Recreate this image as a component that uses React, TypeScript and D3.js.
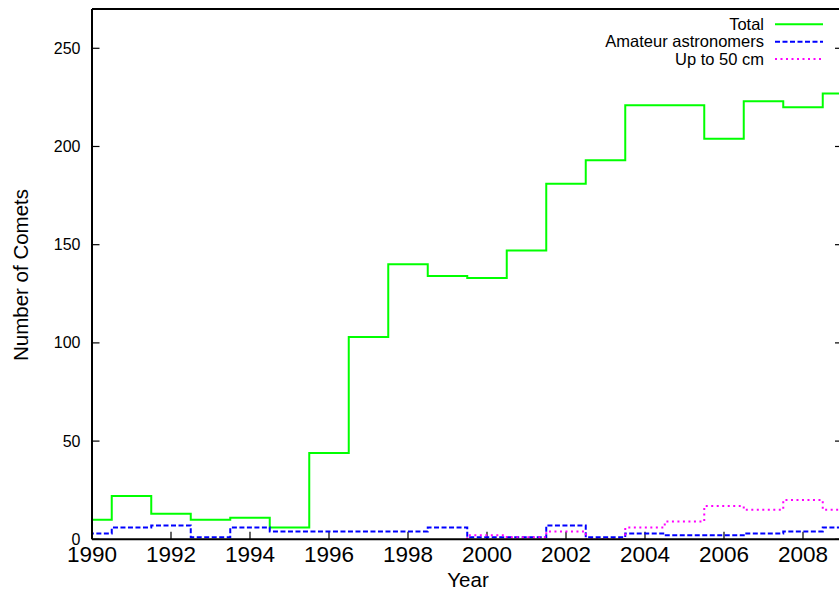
import React from "react";
import * as d3 from "d3";

const years = [1990, 1991, 1992, 1993, 1994, 1995, 1996, 1997, 1998, 1999, 2000, 2001, 2002, 2003, 2004, 2005, 2006, 2007, 2008, 2009];
const totalValues = [10, 22, 13, 10, 11, 6, 44, 103, 140, 134, 133, 147, 181, 193, 221, 221, 204, 223, 220, 227];
const amateurValues = [3, 6, 7, 1, 6, 4, 4, 4, 4, 6, 1, 1, 7, 1, 3, 2, 2, 3, 4, 6];
const smallYears = [2000, 2001, 2002, 2003, 2004, 2005, 2006, 2007, 2008, 2009];
const smallValues = [2, 1, 4, 0, 6, 9, 17, 15, 20, 15];
const xTicks = [1990, 1992, 1994, 1996, 1998, 2000, 2002, 2004, 2006, 2008];
const yTicks = [0, 50, 100, 150, 200, 250];
const xDomain = [1990, 2009];
const yDomain = [0, 270];

const seriesDefs = [
  { name: "Total", xs: years, ys: totalValues, color: "#00ff00", dash: "none" },
  { name: "Amateur astronomers", xs: years, ys: amateurValues, color: "#0000ff", dash: "5,2.5" },
  { name: "Up to 50 cm", xs: smallYears, ys: smallValues, color: "#ff00ff", dash: "2,3.5" },
];

const W = 839;
const H = 592;
const M = { left: 92, right: 842.5, top: 9, bottom: 539.3 };
const FONT = "'Liberation Sans', Arial, Helvetica, sans-serif";

export default function App() {
  const x = d3.scaleLinear().domain(xDomain).range([M.left, M.right]);
  const y = d3.scaleLinear().domain(yDomain).range([M.bottom, M.top]);

  const histeps = (xs: number[], ys: number[]) => {
    const pts: [number, number][] = [[xs[0] - 0.5, 0]];
    xs.forEach((xv, i) => {
      pts.push([xv - 0.5, ys[i]]);
      pts.push([xv + 0.5, ys[i]]);
    });
    return d3
      .line<[number, number]>()
      .x((d) => x(d[0]))
      .y((d) => y(d[1]))(pts) as string;
  };

  const legendX = 764;
  const legendY0 = 24.3;
  const legendDY = 17.4;

  return (
    <svg
      width={W}
      height={H}
      style={{ position: "absolute", left: 0, top: 0, background: "#fff" }}
      fontFamily={FONT}
    >
      <defs>
        <clipPath id="plotclip">
          <rect x={M.left} y={M.top} width={M.right - M.left} height={M.bottom - M.top} />
        </clipPath>
      </defs>
      <rect x={0} y={0} width={W} height={H} fill="#fff" />

      {/* y ticks left and right mirror */}
      {yTicks.map((t) => (
        <g key={"y" + t}>
          <line x1={M.left} x2={M.left + 7.5} y1={y(t)} y2={y(t)} stroke="#000" strokeWidth={1.2} />
          <line x1={M.right - 7.5} x2={M.right} y1={y(t)} y2={y(t)} stroke="#000" strokeWidth={1.2} />
          <text x={80.5} y={y(t)} dy="0.35em" textAnchor="end" fontSize={16} fill="#000">
            {t}
          </text>
        </g>
      ))}
      {/* x ticks */}
      {xTicks.map((t) => (
        <g key={"x" + t}>
          <line x1={x(t)} x2={x(t)} y1={M.bottom} y2={M.bottom - 7.5} stroke="#000" strokeWidth={1.2} />
          <text x={x(t)} y={562} textAnchor="middle" fontSize={22.5} fill="#000">
            {t}
          </text>
        </g>
      ))}

      {/* series */}
      <g clipPath="url(#plotclip)">
        {seriesDefs.map((s) => (
          <path
            key={s.name}
            d={histeps(s.xs, s.ys)}
            fill="none"
            stroke={s.color}
            strokeWidth={2}
            strokeDasharray={s.dash}
          />
        ))}
      </g>

      {/* border */}
      <line x1={M.left} x2={M.left} y1={M.top} y2={M.bottom} stroke="#000" strokeWidth={2} />
      <line x1={M.left} x2={M.right} y1={M.top} y2={M.top} stroke="#000" strokeWidth={2} />
      <line x1={M.left} x2={M.right} y1={M.bottom} y2={M.bottom} stroke="#000" strokeWidth={2} />
      <line x1={M.right} x2={M.right} y1={M.top} y2={M.bottom} stroke="#000" strokeWidth={2} />

      {/* legend */}
      {seriesDefs.map((s, i) => (
        <g key={"lg" + s.name}>
          <text x={legendX} y={legendY0 + i * legendDY} dy="0.35em" textAnchor="end" fontSize={16.5} fill="#000">
            {s.name}
          </text>
          <line
            x1={775}
            x2={823}
            y1={legendY0 + i * legendDY}
            y2={legendY0 + i * legendDY}
            stroke={s.color}
            strokeWidth={2}
            strokeDasharray={s.dash}
          />
        </g>
      ))}

      {/* axis titles */}
      <text x={468} y={586.5} textAnchor="middle" fontSize={20.5} fill="#000">
        Year
      </text>
      <text
        transform={`translate(28,275) rotate(-90)`}
        textAnchor="middle"
        fontSize={20.5}
        fill="#000"
      >
        Number of Comets
      </text>
    </svg>
  );
}
